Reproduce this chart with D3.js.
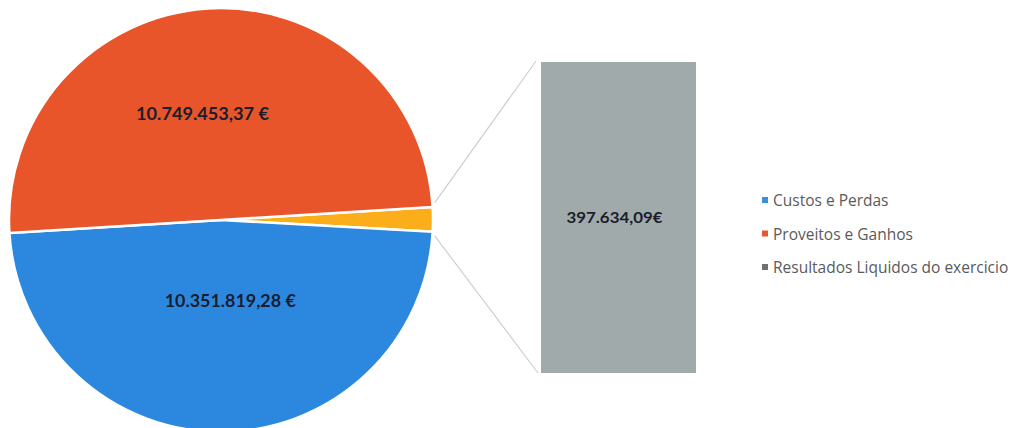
<!DOCTYPE html>
<html>
<head>
<meta charset="utf-8">
<script src="https://cdn.jsdelivr.net/npm/d3@7"></script>
<style>
  html, body { margin: 0; padding: 0; background: #ffffff; }
  svg { display: block; }
</style>
</head>
<body>
<svg id="chart" width="1013" height="428"></svg>
<script>
// ---- data ----
const categories = ["Custos e Perdas", "Proveitos e Ganhos", "Resultados Liquidos do exercicio"];
const pieValues = [10351819.28, 10749453.37];       // Custos e Perdas, Proveitos e Ganhos
const otherValue = 397634.09;                        // Resultados Liquidos do exercicio (bar of pie)
const barValues = [397634.09];

// ---- styles ----
const colors = { custos: "#2b88de", proveitos: "#e9552a", other: "#fcae1a", bar: "#a0aaaa" };
const legendColors = ["#3a8fe0", "#e45a30", "#6f7070"];

const locale = d3.formatLocale({ decimal: ",", thousands: ".", grouping: [3], currency: ["", "€"] });
const fmt = locale.format(",.2f");

const svg = d3.select("#chart");

// ---- pie ----
const cx = 221, cy = 220, R = 212;
const pieData = [
  { key: "other", value: otherValue },
  { key: "custos", value: pieValues[0] },
  { key: "proveitos", value: pieValues[1] }
];
const start = 86.5 * Math.PI / 180;
const pie = d3.pie().sort(null).value(d => d.value).startAngle(start).endAngle(start + 2 * Math.PI);
const arcs = pie(pieData);
const arc = d3.arc().innerRadius(0).outerRadius(R);

const g = svg.append("g").attr("transform", `translate(${cx},${cy})`);
g.selectAll("path.slice").data(arcs).join("path")
  .attr("class", "slice")
  .attr("d", arc)
  .attr("fill", d => colors[d.data.key])
  .attr("stroke", "#ffffff")
  .attr("stroke-width", 2.5)
  .attr("stroke-linejoin", "round");

// labels for the big slices
const labelCfg = { proveitos: { r: 0.5, dx: -12, len: 133 }, custos: { r: 0.38, dx: 9, len: 131 } };
arcs.filter(d => d.data.key !== "other").forEach(d => {
  const c = labelCfg[d.data.key];
  const la = d3.arc().innerRadius(R * c.r).outerRadius(R * c.r);
  const [x, y] = la.centroid(d);
  g.append("text")
    .attr("x", x + c.dx).attr("y", y)
    .attr("text-anchor", "middle").attr("dominant-baseline", "central")
    .attr("font-family", "Lato, 'Open Sans', sans-serif")
    .attr("font-weight", 700).attr("font-size", 16.5)
    .attr("fill", "#1b1d2c")
    .attr("textLength", c.len).attr("lengthAdjust", "spacingAndGlyphs")
    .text(fmt(d.value) + " €");
});

// ---- bar ----
const bx0 = 541, bx1 = 696, by0 = 62, by1 = 373;
const y = d3.scaleLinear().domain([0, d3.sum(barValues)]).range([by1, by0]);
const x = d3.scaleBand().domain(barValues.map((d, i) => i)).range([bx0, bx1]).padding(0);
svg.selectAll("rect.bar").data(barValues).join("rect")
  .attr("class", "bar")
  .attr("x", (d, i) => x(i)).attr("width", x.bandwidth())
  .attr("y", d => y(d)).attr("height", d => y(0) - y(d))
  .attr("fill", colors.bar);
svg.selectAll("text.barlabel").data(barValues).join("text")
  .attr("class", "barlabel")
  .attr("x", (d, i) => x(i) + x.bandwidth() / 2 - 4)
  .attr("y", d => (y(d) + y(0)) / 2 - 1)
  .attr("text-anchor", "middle").attr("dominant-baseline", "central")
  .attr("font-family", "Lato, 'Open Sans', sans-serif")
  .attr("font-weight", 700).attr("font-size", 15)
  .attr("fill", "#1b1d2c")
  .attr("textLength", 96).attr("lengthAdjust", "spacingAndGlyphs")
  .text(d => fmt(d) + "€");

// ---- connector lines ----
const otherArc = arcs[0];
const edgePt = a => [cx + (R + 2) * Math.sin(a), cy - (R + 2) * Math.cos(a)];
const p1 = edgePt(otherArc.startAngle), p2 = edgePt(otherArc.endAngle);
svg.append("line").attr("x1", p1[0]).attr("y1", p1[1] - 4).attr("x2", bx0 - 5).attr("y2", y(barValues[0]) - 1)
  .attr("stroke", "#cfcfcf").attr("stroke-width", 1.2);
svg.append("line").attr("x1", p2[0]).attr("y1", p2[1] + 4).attr("x2", bx0 - 3).attr("y2", y(0))
  .attr("stroke", "#cfcfcf").attr("stroke-width", 1.2);

// ---- legend ----
const lg = svg.append("g").attr("transform", "translate(762,200)");
const items = lg.selectAll("g.item").data(categories).join("g")
  .attr("class", "item")
  .attr("transform", (d, i) => `translate(0,${i * 33.5})`);
items.append("rect").attr("x", 0).attr("y", -3).attr("width", 6).attr("height", 6)
  .attr("fill", (d, i) => legendColors[i]);
items.append("text").attr("x", 11).attr("y", 0)
  .attr("dominant-baseline", "central")
  .attr("font-family", "'Open Sans', sans-serif")
  .attr("font-size", 15.5)
  .attr("fill", "#5a5a5a")
  .text(d => d);
</script>
</body>
</html>
